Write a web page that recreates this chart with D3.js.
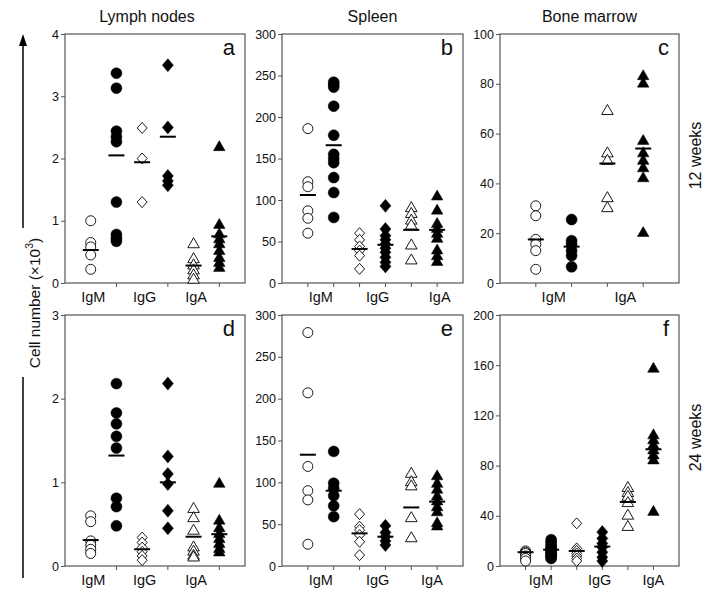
<!DOCTYPE html>
<html>
<head>
<meta charset="utf-8">
<script src="https://cdn.jsdelivr.net/npm/d3@7"></script>
<style>
  body { margin: 0; background: #fff; }
  text { font-family: "Liberation Sans", Arial, sans-serif; fill: #111; }
</style>
</head>
<body>
<svg id="chart" width="705" height="589"></svg>
<script>
'use strict';

// ---- data (cell number x10^3) ----
var organs = ['Lymph nodes', 'Spleen', 'Bone marrow'];
var ages = ['12 weeks', '24 weeks'];
var panelLetters = ['a', 'b', 'c', 'd', 'e', 'f'];

var isotypes3 = ['IgM', 'IgG', 'IgA'];
var isotypes2 = ['IgM', 'IgA'];

// each panel: one array per group (open / filled marker pairs)
var lnW12 = [
  [1.0, 0.65, 0.58, 0.45, 0.22],
  [3.37, 3.13, 2.44, 2.35, 2.27, 1.30, 0.78, 0.72, 0.67],
  [2.49, 2.0, 1.30],
  [3.5, 2.5, 1.72, 1.64, 1.57],
  [0.62, 0.38, 0.28, 0.2, 0.12, 0.05],
  [2.18, 0.93, 0.78, 0.70, 0.62, 0.51, 0.40, 0.32, 0.24]
];
var lnW12Mean = [0.53, 2.05, 1.94, 2.35, 0.28, 0.75];

var spW12 = [
  [186, 122, 116, 87, 78, 60],
  [242, 239, 236, 213, 178, 155, 150, 145, 127, 109, 79],
  [60, 52, 44, 39, 33, 17],
  [93, 65, 57, 52, 47, 42, 37, 31, 25, 20],
  [90, 83, 75, 69, 45, 27],
  [104, 87, 71, 65, 59, 53, 39, 32, 25]
];
var spW12Mean = [106, 166, 41, 46, 64, 64];

var bmW12 = [
  [31, 27, 17.5, 15.5, 13, 5.5],
  [25.5, 17, 15.5, 13, 11, 6.5],
  [69, 52, 49, 34, 30],
  [83, 80, 57, 52, 49, 46, 42, 20]
];
var bmW12Mean = [17.5, 14.6, 48, 54];

var lnW24 = [
  [0.6, 0.53, 0.3, 0.25, 0.2, 0.15],
  [2.18, 1.83, 1.70, 1.55, 1.41, 0.81, 0.71, 0.48],
  [0.34, 0.28, 0.22, 0.17, 0.12, 0.07],
  [2.18, 1.31, 1.10, 0.98, 0.66, 0.45],
  [0.68, 0.57, 0.42, 0.22, 0.17, 0.12, 0.10],
  [0.98, 0.54, 0.45, 0.38, 0.32, 0.26, 0.2, 0.16]
];
var lnW24Mean = [0.31, 1.32, 0.2, 1.0, 0.35, 0.38];

var spW24 = [
  [279, 207, 119, 90, 79, 26],
  [137, 99, 93, 84, 72, 59],
  [62, 47, 43, 37, 29, 13],
  [48, 40, 35, 30, 25],
  [110, 100, 95, 57, 33],
  [107, 98, 91, 83, 77, 70, 64, 51, 47]
];
var spW24Mean = [133, 90, 39, 35, 70, 77];

var bmW24 = [
  [12, 11, 10, 8, 6, 4],
  [21, 19, 17, 15, 14, 13, 12, 11, 10, 9, 8, 7, 6],
  [34, 14, 12, 10, 8, 6, 4],
  [27, 22, 18, 15, 11, 7, 4],
  [62, 58, 55, 50, 40, 31],
  [157, 104, 100, 96, 92, 88, 84, 43]
];
var bmW24Mean = [11, 13, 12, 15.5, 51, 93];

var shapes6 = ['circleOpen', 'circle', 'diamondOpen', 'diamond', 'triangleOpen', 'triangle'];
var shapes4 = ['circleOpen', 'circle', 'triangleOpen', 'triangle'];

// y axis maxima and tick steps
var yMax = [4, 300, 100, 3, 300, 200];
var yStep = [1, 50, 20, 1, 50, 40];

// x-axis label anchors (group index units) and tick groups
var labelPosA = [0.1, 2.1, 4.1];
var labelPosB = [0.5, 2.7, 5.1];
var labelPosC = [0.5, 2.5];
var labelPosE = [0.5, 2.7, 4.8];
var labelPosF = [0.6, 2.9, 5.0];
var tickGroupsLn = [1, 3, 5];

// ---- layout ----
var svg = d3.select('#chart');
var colX = [65, 282, 500];
var colW = [180, 181, 179];
var rowTop = [34, 315];
var rowBottom = [283, 566];

var panels = [
  { data: lnW12, mean: lnW12Mean, shapes: shapes6, labels: isotypes3, labelPos: labelPosA, ticks: tickGroupsLn },
  { data: spW12, mean: spW12Mean, shapes: shapes6, labels: isotypes3, labelPos: labelPosB, ticks: d3.range(6) },
  { data: bmW12, mean: bmW12Mean, shapes: shapes4, labels: isotypes2, labelPos: labelPosC, ticks: d3.range(4) },
  { data: lnW24, mean: lnW24Mean, shapes: shapes6, labels: isotypes3, labelPos: labelPosA, ticks: tickGroupsLn },
  { data: spW24, mean: spW24Mean, shapes: shapes6, labels: isotypes3, labelPos: labelPosE, ticks: d3.range(6) },
  { data: bmW24, mean: bmW24Mean, shapes: shapes6, labels: isotypes3, labelPos: labelPosF, ticks: d3.range(6) }
];

var circleSym = d3.symbol().type(d3.symbolCircle).size(Math.PI * 25);
var circleFilledSym = d3.symbol().type(d3.symbolCircle).size(Math.PI * 30);
var triangleSym = d3.symbol().type(d3.symbolTriangle).size(58);

function shapePath(kind) {
  if (kind === 'circleOpen') return circleSym();
  if (kind === 'circle') return circleFilledSym();
  if (kind === 'diamondOpen') return 'M0,-5.5L5,0L0,5.5L-5,0Z';
  if (kind === 'diamond') return 'M0,-6.5L5.5,0L0,6.5L-5.5,0Z';
  return triangleSym();
}

panels.forEach(function (p, k) {
  var col = k % 3;
  var row = Math.floor(k / 3);
  var w = colW[col];
  var h = rowBottom[row] - rowTop[row];
  var n = p.data.length;

  var g = svg.append('g')
    .attr('transform', 'translate(' + colX[col] + ',' + rowTop[row] + ')');

  var x = d3.scaleLinear().domain([-1, n]).range([0, w]);
  var y = d3.scaleLinear().domain([0, yMax[k]]).range([h, 0]);

  // frame
  g.append('rect')
    .attr('width', w).attr('height', h)
    .attr('fill', 'none').attr('stroke', '#555').attr('stroke-width', 1.2);

  // y axis
  var yAxis = d3.axisLeft(y)
    .tickValues(d3.range(0, yMax[k] + yStep[k] / 2, yStep[k]))
    .tickSize(4).tickSizeOuter(0).tickPadding(2)
    .tickFormat(d3.format('d'));
  var ya = g.append('g').call(yAxis);
  ya.select('.domain').remove();
  ya.selectAll('line').attr('stroke', '#555');
  ya.selectAll('text').attr('font-size', 12.5).attr('fill', '#222')
    .style('font-family', '"Liberation Sans", Arial, sans-serif');

  // x ticks
  g.selectAll('.xtick').data(p.ticks).enter().append('line')
    .attr('x1', function (d) { return x(d); })
    .attr('x2', function (d) { return x(d); })
    .attr('y1', h).attr('y2', h + 4)
    .attr('stroke', '#555');

  // x labels
  g.selectAll('.xlab').data(p.labels).enter().append('text')
    .attr('x', function (d, i) { return x(p.labelPos[i]); })
    .attr('y', h + 19)
    .attr('text-anchor', 'middle')
    .attr('font-size', 14.5)
    .text(function (d) { return d; });

  // points
  p.data.forEach(function (vals, i) {
    var kind = p.shapes[i];
    var open = kind.indexOf('Open') >= 0;
    g.append('g').selectAll('path').data(vals).enter().append('path')
      .attr('d', shapePath(kind))
      .attr('transform', function (v) { return 'translate(' + x(i) + ',' + y(v) + ')'; })
      .attr('fill', open ? '#fff' : '#000')
      .attr('stroke', '#000')
      .attr('stroke-width', open ? 0.9 : 0.5);
  });

  // mean bars
  g.selectAll('.mean').data(p.mean).enter().append('line')
    .attr('x1', function (d, i) { return x(i) - 8; })
    .attr('x2', function (d, i) { return x(i) + 8; })
    .attr('y1', function (d) { return y(d); })
    .attr('y2', function (d) { return y(d); })
    .attr('stroke', '#000').attr('stroke-width', 2);

  // panel letter
  g.append('text')
    .attr('x', w - 10).attr('y', 21)
    .attr('text-anchor', 'end')
    .attr('font-size', 22)
    .text(panelLetters[k]);
});

// column titles
organs.forEach(function (o, i) {
  svg.append('text')
    .attr('x', colX[i] + colW[i] / 2 - (i === 0 ? 8 : 0))
    .attr('y', 22)
    .attr('text-anchor', 'middle')
    .attr('font-size', 16)
    .text(o);
});

// row titles
ages.forEach(function (a, i) {
  var cy = (rowTop[i] + rowBottom[i]) / 2;
  svg.append('text')
    .attr('transform', 'translate(701,' + (cy - 3) + ') rotate(-90)')
    .attr('text-anchor', 'middle')
    .attr('font-size', 16)
    .text(a);
});

// y title with arrow
var yTitle = svg.append('text')
  .attr('transform', 'translate(40,303) rotate(-90)')
  .attr('text-anchor', 'middle')
  .attr('font-size', 15.5);
yTitle.append('tspan').text('Cell number (\u00d710');
yTitle.append('tspan').attr('font-size', 10.5).attr('dy', -7).text('3');
yTitle.append('tspan').attr('dy', 7).text(')');

var arrowX = 23;
svg.append('line')
  .attr('x1', arrowX).attr('x2', arrowX)
  .attr('y1', 44).attr('y2', 228)
  .attr('stroke', '#000').attr('stroke-width', 1.5);
svg.append('path')
  .attr('d', d3.line()([[arrowX - 4, 46], [arrowX, 34], [arrowX + 4, 46]]) + 'Z')
  .attr('fill', '#000');
svg.append('line')
  .attr('x1', arrowX).attr('x2', arrowX)
  .attr('y1', 377).attr('y2', 578)
  .attr('stroke', '#000').attr('stroke-width', 1.5);
</script>
</body>
</html>
